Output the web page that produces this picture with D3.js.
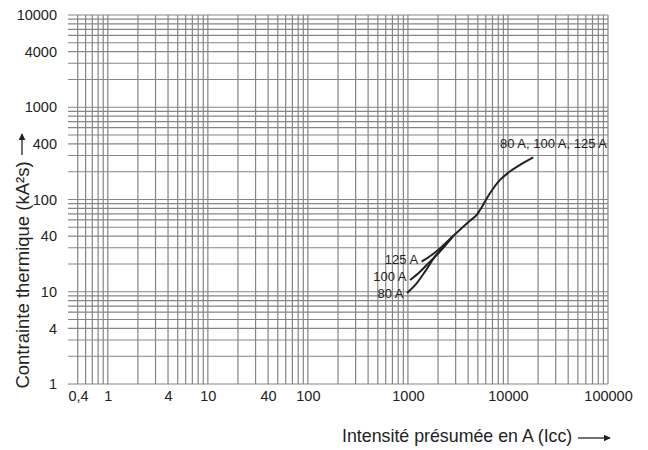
<!DOCTYPE html>
<html>
<head>
<meta charset="utf-8">
<script src="https://cdn.jsdelivr.net/npm/d3@7"></script>
<style>
body{margin:0;background:#fff}
text{font-family:"Liberation Sans",Arial,Helvetica,sans-serif;fill:#222}
</style>
</head>
<body>
<svg id="chart" width="648" height="450"></svg>
<script>
// tick labels
var xLabels = [0.4, 1, 4, 10, 40, 100, 1000, 10000, 100000]
var yLabels = [1, 4, 10, 40, 100, 400, 1000, 4000, 10000]

// curves (Icc in A, I2t in kA2s)
var curve80  = [[980, 9.7], [1180, 11.8], [1480, 16.5], [1860, 24], [2350, 32], [2850, 40.5]]
var curve100 = [[1050, 13.4], [1320, 16.5], [1660, 21.2], [2090, 27.2], [2850, 40.5]]
var curve125 = [[1370, 21.2], [1730, 25], [2180, 30.8], [2850, 40.5]]
var common   = [[2850, 40.5], [4170, 59], [4870, 68], [5250, 77], [6610, 117], [8330, 163], [10070, 195], [13200, 237], [17900, 286]]

var svg = d3.select("#chart")
var x = d3.scaleLog().domain([0.4, 100000]).range([68, 608])
var y = d3.scaleLog().domain([1, 10000]).range([384, 15])

// grid
var gx = x.ticks().filter(function(d){ return d >= 0.5 })
var gy = y.ticks()

svg.append("g").selectAll("line").data(gx).enter().append("line")
    .attr("x1", function(d){ return x(d) }).attr("x2", function(d){ return x(d) })
    .attr("y1", y(10000)).attr("y2", y(1))
    .attr("stroke", "#858585").attr("stroke-width", 1.2)

svg.append("g").selectAll("line").data(gy).enter().append("line")
    .attr("x1", x(0.4)).attr("x2", x(100000))
    .attr("y1", function(d){ return y(d) }).attr("y2", function(d){ return y(d) })
    .attr("stroke", "#858585").attr("stroke-width", 1.2)

// axes (labels only)
var fmt = function(d){ return String(d).replace(".", ",") }

var ax = svg.append("g").attr("transform", "translate(0," + y(1) + ")")
    .call(d3.axisBottom(x).tickValues(xLabels).tickFormat(fmt).tickSize(0).tickPadding(7))
ax.select(".domain").remove()
ax.selectAll("text").attr("font-size", 14.5).attr("fill", "#222")
    .attr("text-anchor", function(d){ return d == 0.4 ? "start" : "middle" })

var ay = svg.append("g").attr("transform", "translate(" + x(0.4) + ",0)")
    .call(d3.axisLeft(y).tickValues(yLabels).tickFormat(fmt).tickSize(0).tickPadding(11))
ay.select(".domain").remove()
ay.selectAll("text").attr("font-size", 14.5).attr("fill", "#222")

// curves
var line = d3.line()
    .x(function(d){ return x(d[0]) })
    .y(function(d){ return y(d[1]) })
    .curve(d3.curveMonotoneX)

var curves = [curve80, curve100, curve125, common]
svg.append("g").selectAll("path").data(curves).enter().append("path")
    .attr("d", line)
    .attr("fill", "none").attr("stroke", "#222").attr("stroke-width", 2)

// curve labels
var lbl = [
    {t: "80 A", p: curve80[0], dy: 0},
    {t: "100 A", p: curve100[0], dy: -4},
    {t: "125 A", p: curve125[0], dy: -2}
]
svg.append("g").selectAll("text").data(lbl).enter().append("text")
    .attr("x", function(d){ return x(d.p[0]) - 3.5 })
    .attr("y", function(d){ return y(d.p[1]) + d.dy })
    .attr("dy", "0.35em").attr("text-anchor", "end").attr("font-size", 13)
    .text(function(d){ return d.t })

svg.append("text")
    .attr("x", x(100000) - 1).attr("y", y(286) - 9)
    .attr("text-anchor", "end").attr("font-size", 13)
    .text("80 A, 100 A, 125 A")

// arrow marker
svg.append("defs").append("marker")
    .attr("id", "arr").attr("viewBox", "0 0 10 10")
    .attr("refX", 9).attr("refY", 5)
    .attr("markerWidth", 7).attr("markerHeight", 7)
    .attr("markerUnits", "userSpaceOnUse")
    .attr("orient", "auto")
    .append("path").attr("d", "M0,0L10,5L0,10z").attr("fill", "#222")

// axis titles
svg.append("text")
    .attr("x", 342).attr("y", 442)
    .attr("font-size", 17.8)
    .text("Intensité présumée en A (Icc)")
svg.append("line")
    .attr("x1", 578).attr("x2", 610).attr("y1", 438).attr("y2", 438)
    .attr("stroke", "#222").attr("stroke-width", 1.3).attr("marker-end", "url(#arr)")

svg.append("text")
    .attr("transform", "translate(29,275) rotate(-90)")
    .attr("text-anchor", "middle").attr("font-size", 18.5)
    .text("Contrainte thermique (kA²s)")
svg.append("line")
    .attr("x1", 22).attr("x2", 22).attr("y1", 155).attr("y2", 134)
    .attr("stroke", "#222").attr("stroke-width", 1.3).attr("marker-end", "url(#arr)")
</script>
</body>
</html>
